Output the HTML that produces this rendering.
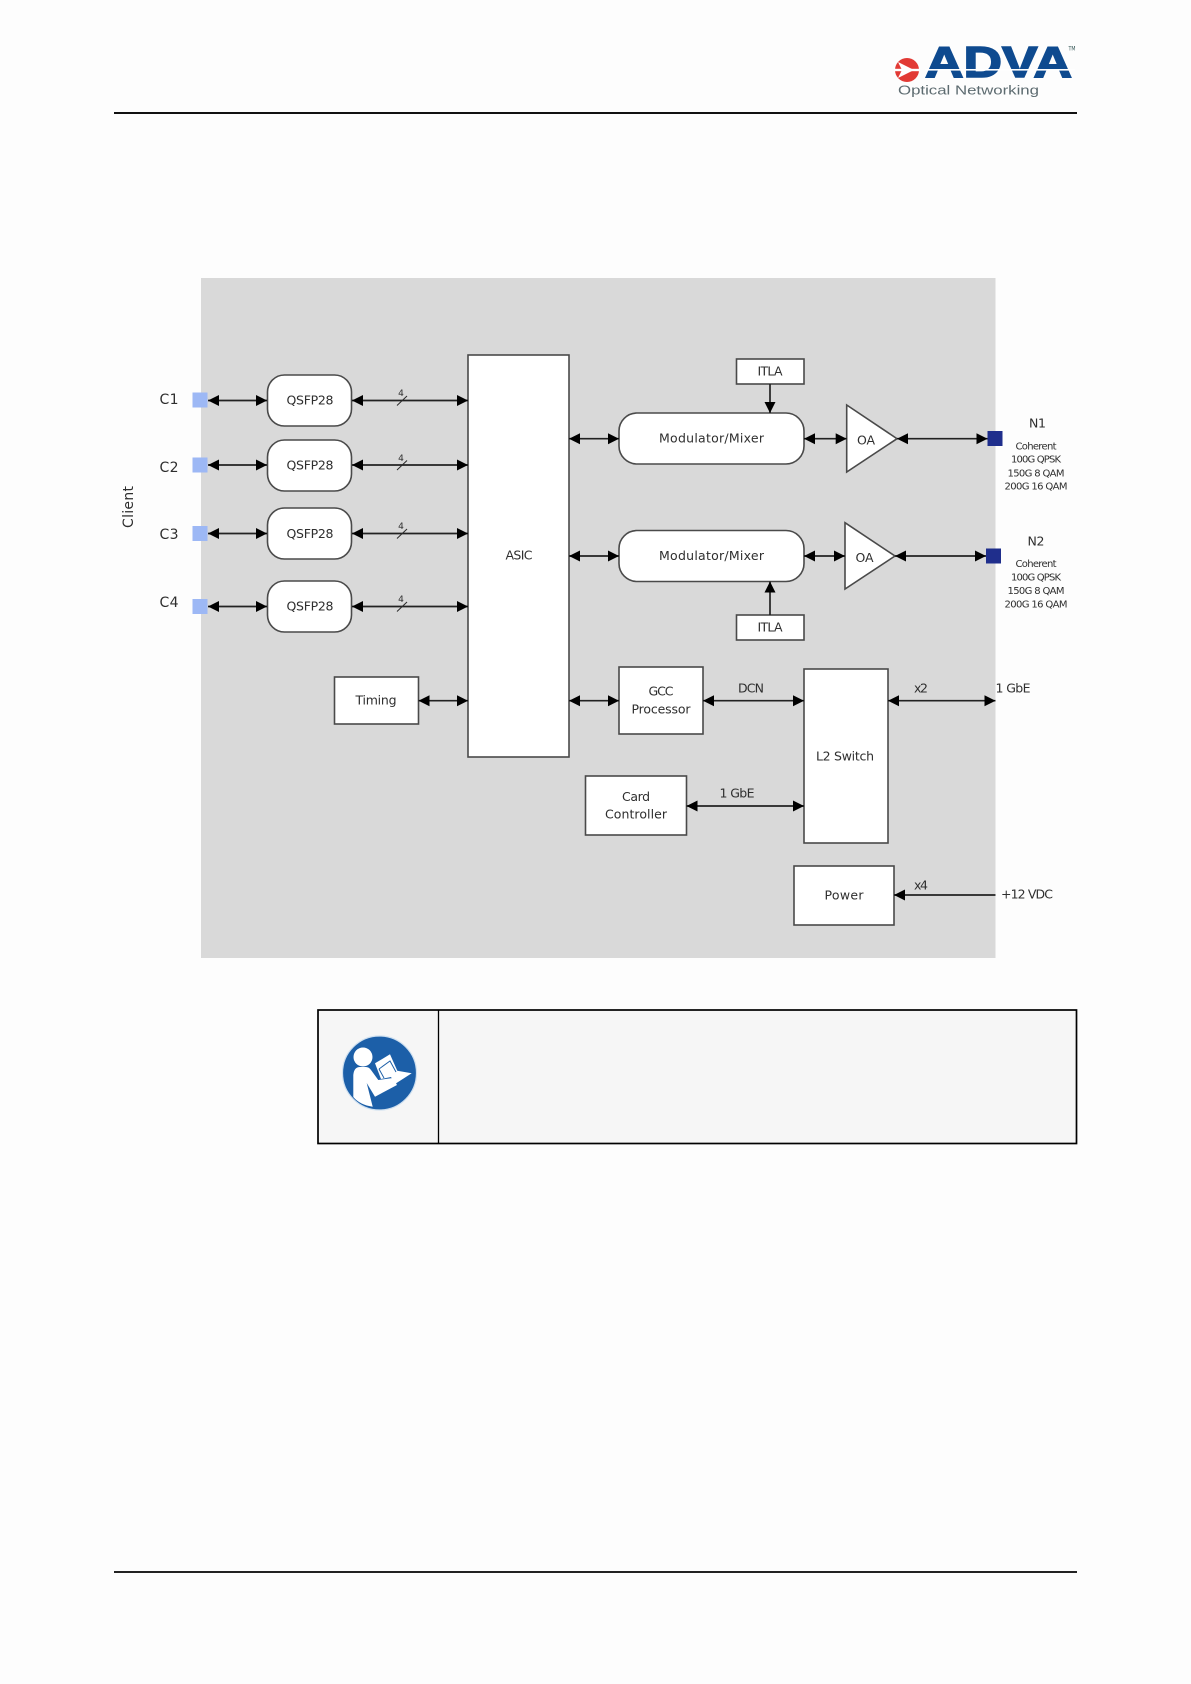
<!DOCTYPE html>
<html><head><meta charset="utf-8"><style>
html,body{margin:0;padding:0;background:#fdfdfd}
svg{display:block}
text{font-family:"DejaVu Sans","Liberation Sans",sans-serif;fill:#2e2e2e;dominant-baseline:central;text-anchor:middle;font-size:12.5px}
.b{fill:#fff;stroke:#4a4a4a;stroke-width:1.6}
.l{stroke:#222;stroke-width:1.7;fill:none}
.d{marker-start:url(#a);marker-end:url(#a)}
.e{marker-end:url(#a)}
.s{font-size:10px}
</style></head><body>
<svg width="1191" height="1684" viewBox="0 0 1191 1684" xmlns="http://www.w3.org/2000/svg">
<defs>
<marker id="a" markerUnits="userSpaceOnUse" markerWidth="12" markerHeight="12" refX="11" refY="6" orient="auto-start-reverse"><path d="M0 0.5L11 6L0 11.5Z" fill="#000"/></marker>
</defs>
<rect width="1191" height="1684" fill="#fdfdfd"/>

<!-- header -->
<rect x="114" y="112" width="963" height="2" fill="#111"/>
<rect x="114" y="1571" width="963" height="2" fill="#222"/>
<text x="998.5" y="62.5" textLength="147" lengthAdjust="spacingAndGlyphs" style="font-family:'Liberation Sans',sans-serif;font-weight:bold;font-size:44px;fill:#0e4a8f;stroke:#0e4a8f;stroke-width:1.6">ADVA</text>
<rect x="925" y="69" width="150" height="1.6" fill="#fff"/>
<text x="1072" y="49" style="font-size:6px;fill:#355" textLength="7" lengthAdjust="spacingAndGlyphs">TM</text>
<circle cx="907" cy="70" r="12" fill="#e23a35"/>
<rect x="894" y="68.8" width="26" height="2.4" fill="#fff"/>
<path d="M898 62L914 70L898 78L902 70Z" fill="#fff"/>
<text x="968.5" y="90" textLength="141" lengthAdjust="spacingAndGlyphs" style="font-size:13px;fill:#5d6b70;font-family:'Liberation Sans',sans-serif">Optical Networking</text>

<!-- background panel -->
<rect x="201" y="278" width="794.5" height="680" fill="#d9d9d9"/>

<!-- ports -->
<g fill="#9db8f5"><rect x="192.5" y="392.5" width="15" height="15"/><rect x="192.5" y="457.5" width="15" height="15"/><rect x="192.5" y="526" width="15" height="15"/><rect x="192.5" y="599" width="15" height="15"/></g>
<g fill="#1f2e8c"><rect x="987.5" y="431" width="15" height="15"/><rect x="986" y="548.5" width="15" height="15"/></g>

<!-- boxes -->
<rect class="b" x="468" y="355" width="101" height="402"/>
<rect class="b" x="267.5" y="375" width="84" height="51" rx="17"/>
<rect class="b" x="267.5" y="440" width="84" height="51" rx="17"/>
<rect class="b" x="267.5" y="508" width="84" height="51" rx="17"/>
<rect class="b" x="267.5" y="581" width="84" height="51" rx="17"/>
<rect class="b" x="736.5" y="359" width="67.5" height="25"/>
<rect class="b" x="736.5" y="615" width="67.5" height="25"/>
<rect class="b" x="619" y="413" width="185" height="51" rx="18"/>
<rect class="b" x="619" y="530.5" width="185" height="51" rx="18"/>
<path class="b" d="M846.7 405L897 438.7L846.7 472Z"/>
<path class="b" d="M845 522.7L895 556L845 589Z"/>
<rect class="b" x="334.5" y="677" width="84" height="47"/>
<rect class="b" x="619" y="667" width="84" height="67"/>
<rect class="b" x="804" y="669" width="84" height="174"/>
<rect class="b" x="585.5" y="776" width="101" height="59"/>
<rect class="b" x="794" y="866" width="100" height="59"/>

<!-- connectors -->
<line class="l d" x1="208" y1="400.5" x2="267" y2="400.5"/>
<line class="l d" x1="208" y1="465" x2="267" y2="465"/>
<line class="l d" x1="208" y1="533.5" x2="267" y2="533.5"/>
<line class="l d" x1="208" y1="606.5" x2="267" y2="606.5"/>
<line class="l d" x1="352" y1="400.5" x2="468" y2="400.5"/>
<line class="l d" x1="352" y1="465" x2="468" y2="465"/>
<line class="l d" x1="352" y1="533.5" x2="468" y2="533.5"/>
<line class="l d" x1="352" y1="606.5" x2="468" y2="606.5"/>
<g stroke="#2a2a2a" stroke-width="1">
<line x1="397" y1="405.5" x2="407" y2="396"/><line x1="397" y1="470" x2="407" y2="460.5"/><line x1="397" y1="538.5" x2="407" y2="529"/><line x1="397" y1="611.5" x2="407" y2="602"/>
</g>
<line class="l d" x1="569" y1="438.7" x2="619" y2="438.7"/>
<line class="l d" x1="569" y1="556" x2="619" y2="556"/>
<line class="l d" x1="804" y1="438.7" x2="846.7" y2="438.7"/>
<line class="l d" x1="804" y1="556" x2="845" y2="556"/>
<line class="l d" x1="897" y1="438.7" x2="987.5" y2="438.7"/>
<line class="l d" x1="895" y1="556" x2="986" y2="556"/>
<line class="l e" x1="770" y1="384" x2="770" y2="413"/>
<line class="l e" x1="770" y1="615" x2="770" y2="581.5"/>
<line class="l d" x1="418.5" y1="700.7" x2="468" y2="700.7"/>
<line class="l d" x1="569" y1="700.7" x2="619" y2="700.7"/>
<line class="l d" x1="703" y1="700.7" x2="804" y2="700.7"/>
<line class="l d" x1="888" y1="700.7" x2="995.5" y2="700.7"/>
<line class="l d" x1="686.5" y1="806" x2="804" y2="806"/>
<line class="l e" x1="995.5" y1="895" x2="894" y2="895"/>

<!-- labels -->
<text x="169" y="400" textLength="19" style="font-size:14px">C1</text>
<text x="169" y="468" textLength="19" style="font-size:14px">C2</text>
<text x="169" y="535" textLength="19" style="font-size:14px">C3</text>
<text x="169" y="603" textLength="19" style="font-size:14px">C4</text>
<text transform="translate(129 507) rotate(-90)" textLength="42" style="font-size:14px">Client</text>
<text x="310" y="400" textLength="47">QSFP28</text>
<text x="310" y="465" textLength="47">QSFP28</text>
<text x="310" y="533.5" textLength="47">QSFP28</text>
<text x="310" y="606" textLength="47">QSFP28</text>
<text x="401" y="394" style="font-size:9px">4</text>
<text x="401" y="459" style="font-size:9px">4</text>
<text x="401" y="527" style="font-size:9px">4</text>
<text x="401" y="600" style="font-size:9px">4</text>
<text x="519" y="555" textLength="27">ASIC</text>
<text x="770" y="371" textLength="25">ITLA</text>
<text x="770" y="627" textLength="25">ITLA</text>
<text x="711.5" y="438" textLength="105">Modulator/Mixer</text>
<text x="711.5" y="555.5" textLength="105">Modulator/Mixer</text>
<text x="866" y="440" textLength="18">OA</text>
<text x="864.5" y="557.5" textLength="18">OA</text>
<text x="1037.5" y="423" textLength="17">N1</text>
<text x="1036" y="541" textLength="17">N2</text>
<text class="s" x="1036" y="447" textLength="41">Coherent</text>
<text class="s" x="1036" y="460" textLength="50">100G QPSK</text>
<text class="s" x="1036" y="474" textLength="57">150G 8 QAM</text>
<text class="s" x="1036" y="487" textLength="63">200G 16 QAM</text>
<text class="s" x="1036" y="564.5" textLength="41">Coherent</text>
<text class="s" x="1036" y="578" textLength="50">100G QPSK</text>
<text class="s" x="1036" y="591.5" textLength="57">150G 8 QAM</text>
<text class="s" x="1036" y="605" textLength="63">200G 16 QAM</text>
<text x="376" y="700" textLength="41">Timing</text>
<text x="661" y="691" textLength="25">GCC</text>
<text x="661" y="709" textLength="59">Processor</text>
<text x="636" y="796.5" textLength="28">Card</text>
<text x="636" y="814" textLength="62">Controller</text>
<text x="845" y="756" textLength="58">L2 Switch</text>
<text x="844" y="895" textLength="39">Power</text>
<text x="751" y="688" textLength="26">DCN</text>
<text x="921" y="688" textLength="14">x2</text>
<text x="1013" y="688" textLength="35">1 GbE</text>
<text x="737" y="793" textLength="35">1 GbE</text>
<text x="921" y="885" textLength="14">x4</text>
<text x="1027" y="894" textLength="52">+12 VDC</text>

<!-- note table -->
<rect x="318" y="1010" width="758.5" height="133.5" fill="#f6f6f6" stroke="#000" stroke-width="1.7"/>
<line x1="438.5" y1="1010" x2="438.5" y2="1143.5" stroke="#000" stroke-width="1.3"/>
<circle cx="379.5" cy="1073" r="37" fill="#1c5fa8" stroke="#cfe0f0" stroke-width="1.2"/>
<circle cx="363" cy="1057" r="9.5" fill="#fff"/>
<path fill="#fff" d="M353.3 1075Q354 1067 360 1067L366 1067Q369 1067 371 1070L378.3 1080L393 1078L397 1085L375 1096.7L366.7 1083L372.7 1106.7Q360 1105 353.3 1097Z"/>
<path fill="#fff" d="M375 1063.3L390 1054.3L397.3 1070.7L411.7 1073.3L395 1084L391 1077L381 1079Z"/>
<path fill="none" stroke="#1c5fa8" stroke-width="1" d="M379 1069L390 1061L396 1072M379 1069L384 1078"/>
</svg>
</body></html>
